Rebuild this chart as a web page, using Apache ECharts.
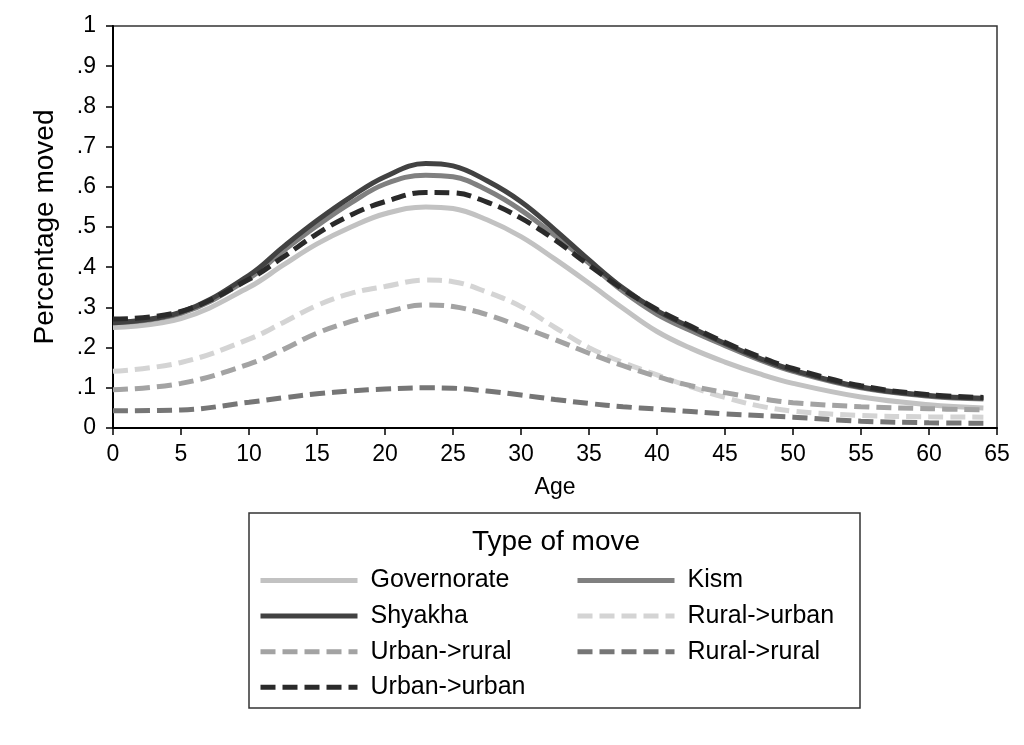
<!DOCTYPE html>
<html>
<head>
<meta charset="utf-8">
<script src="https://cdn.jsdelivr.net/npm/echarts@6/dist/echarts.min.js"></script>
<style>html,body{margin:0;padding:0;background:#fff}#c{width:1024px;height:745px}</style>
</head>
<body>
<div id="c"></div>
<script>
const ages        = [0,     5,     10,    12.5,  15,    17.5,  20,    23,    25,    27.5,  30,    32.5,  35,    37.5,  40,    42.5,  45,    47.5,  50,    55,    60,    64];
const governorate = [0.250, 0.272, 0.350, 0.405, 0.458, 0.500, 0.533, 0.550, 0.546, 0.518, 0.476, 0.420, 0.360, 0.298, 0.240, 0.198, 0.164, 0.135, 0.111, 0.077, 0.058, 0.050];
const kism        = [0.262, 0.285, 0.372, 0.440, 0.503, 0.560, 0.607, 0.629, 0.625, 0.592, 0.542, 0.478, 0.410, 0.340, 0.283, 0.242, 0.205, 0.170, 0.141, 0.100, 0.079, 0.072];
const shyakha     = [0.262, 0.288, 0.380, 0.450, 0.516, 0.575, 0.625, 0.658, 0.652, 0.615, 0.563, 0.493, 0.418, 0.348, 0.292, 0.250, 0.210, 0.174, 0.144, 0.102, 0.081, 0.074];
const ruralUrban  = [0.141, 0.163, 0.221, 0.262, 0.305, 0.335, 0.352, 0.368, 0.364, 0.338, 0.302, 0.250, 0.200, 0.163, 0.132, 0.102, 0.076, 0.055, 0.042, 0.031, 0.028, 0.027];
const urbanRural  = [0.095, 0.111, 0.159, 0.195, 0.236, 0.265, 0.288, 0.306, 0.302, 0.282, 0.252, 0.220, 0.186, 0.155, 0.128, 0.105, 0.088, 0.074, 0.063, 0.053, 0.048, 0.045];
const ruralRural  = [0.043, 0.045, 0.064, 0.075, 0.085, 0.092, 0.097, 0.100, 0.099, 0.092, 0.082, 0.071, 0.061, 0.053, 0.047, 0.041, 0.035, 0.031, 0.027, 0.017, 0.013, 0.012];
const urbanUrban  = [0.271, 0.290, 0.370, 0.425, 0.483, 0.530, 0.563, 0.586, 0.585, 0.562, 0.522, 0.468, 0.405, 0.345, 0.295, 0.253, 0.213, 0.178, 0.148, 0.105, 0.083, 0.076];
const yTickLabels = ['0', '.1', '.2', '.3', '.4', '.5', '.6', '.7', '.8', '.9', '1'];
const xTickLabels = ['0','5','10','15','20','25','30','35','40','45','50','55','60','65'];

const FONT = '"Liberation Sans", Arial, Helvetica, sans-serif';
const pairs = arr => ages.map((a, i) => [a, arr[i]]);
const mk = (name, arr, color, dashed) => ({
  name, type: 'line', data: pairs(arr), symbol: 'none', showSymbol: false, smooth: 0.4,
  lineStyle: { color, width: 5, type: dashed ? [15, 7] : 'solid' },
  itemStyle: { color }, emphasis: { disabled: true }, z: 3
});

const chart = echarts.init(document.getElementById('c'), null, { renderer: 'canvas' });
const legendCommon = {
  orient: 'vertical', itemWidth: 97, itemHeight: 14, itemGap: 10.6,
  selectedMode: false,
  itemStyle: { opacity: 0 },
  lineStyle: { width: 5 },
  textStyle: { fontFamily: FONT, fontSize: 25, color: '#000', lineHeight: 25, padding: [0, 0, 0, 8] }
};
chart.setOption({
  animation: false,
  backgroundColor: '#fff',
  grid: { left: 113, top: 26, right: 27, bottom: 317, show: true, borderColor: '#333', borderWidth: 1.5 },
  xAxis: {
    type: 'value', min: 0, max: 65, interval: 5,
    name: 'Age', nameLocation: 'middle', nameGap: 48,
    nameTextStyle: { fontFamily: FONT, fontSize: 23, color: '#000' },
    axisLine: { show: true, onZero: false, lineStyle: { color: '#000', width: 2 } },
    axisTick: { show: true, length: 7, lineStyle: { color: '#000', width: 1.5 } },
    axisLabel: { fontFamily: FONT, fontSize: 23, color: '#000', margin: 15,
      formatter: v => xTickLabels[Math.round(v / 5)] },
    splitLine: { show: false }
  },
  yAxis: {
    type: 'value', min: 0, max: 1, interval: 0.1,
    name: 'Percentage moved', nameLocation: 'middle', nameGap: 54,
    nameTextStyle: { fontFamily: FONT, fontSize: 28, color: '#000' },
    axisLine: { show: true, lineStyle: { color: '#000', width: 2 } },
    axisTick: { show: true, length: 7, lineStyle: { color: '#000', width: 1.5 } },
    axisLabel: { fontFamily: FONT, fontSize: 23, color: '#000', margin: 17,
      formatter: v => yTickLabels[Math.round(v * 10)] },
    splitLine: { show: false }
  },
  legend: [
    Object.assign({}, legendCommon, { left: 253, top: 563, data: ['Governorate', 'Shyakha', 'Urban->rural', 'Urban->urban'] }),
    Object.assign({}, legendCommon, { left: 570, top: 563, data: ['Kism', 'Rural->urban', 'Rural->rural'] })
  ],
  graphic: [
    { type: 'rect', shape: { x: 249, y: 513, width: 611, height: 195 },
      style: { fill: 'none', stroke: '#333', lineWidth: 1.5 }, z: 0 },
    { type: 'text', x: 556, y: 542,
      style: { text: 'Type of move', font: '28px ' + FONT, fill: '#000', align: 'center', verticalAlign: 'middle' } }
  ],
  series: [
    mk('Governorate', governorate, '#c2c2c2', false),
    mk('Kism', kism, '#808080', false),
    mk('Shyakha', shyakha, '#424242', false),
    mk('Rural->urban', ruralUrban, '#d4d4d4', true),
    mk('Urban->rural', urbanRural, '#a3a3a3', true),
    mk('Rural->rural', ruralRural, '#767676', true),
    mk('Urban->urban', urbanUrban, '#2a2a2a', true)
  ]
});
</script>
</body>
</html>
